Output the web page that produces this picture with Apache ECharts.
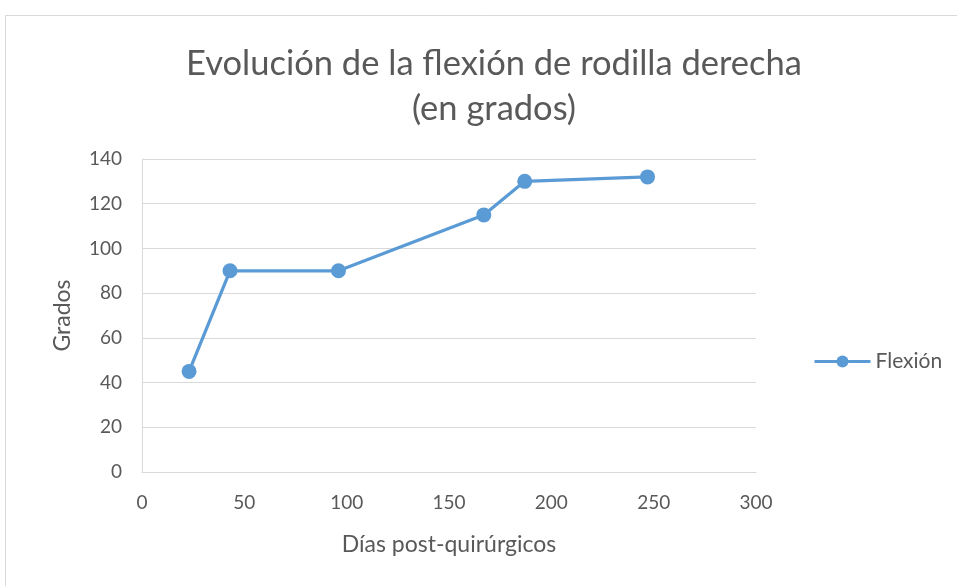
<!DOCTYPE html>
<html>
<head>
<meta charset="utf-8">
<script src="https://cdn.jsdelivr.net/npm/echarts@6/dist/echarts.min.js"></script>
<style>
  html, body { margin: 0; padding: 0; background: #fff; }
  #chart { width: 957px; height: 586px; }
</style>
</head>
<body>
<div id="chart"></div>
<script>
// datos
const dias = [23, 43, 96, 167, 187, 247]
const flexion = [45, 90, 90, 115, 130, 132]
const serieNombre = 'Flexión'

const textColor = '#595959'
const gridColor = '#d9d9d9'
const fontFam = 'Lato, "Open Sans", sans-serif'

const chart = echarts.init(document.getElementById('chart'))
chart.setOption({
  animation: false,
  graphic: [
    {
      type: 'rect',
      shape: { x: 5.5, y: 15.5, width: 960, height: 600 },
      style: { fill: 'none', stroke: '#d9d9d9', lineWidth: 1 },
      silent: true
    }
  ],
  title: {
    text: 'Evolución de la flexión de rodilla derecha\n(en grados)',
    left: 489,
    textAlign: 'center',
    top: 36,
    textStyle: {
      color: textColor,
      fontFamily: fontFam,
      fontWeight: 'normal',
      fontSize: 34.5,
      lineHeight: 45
    }
  },
  legend: {
    left: 808,
    top: 346,
    itemWidth: 56,
    itemHeight: 15,
    itemGap: 4,
    lineStyle: { width: 3 },
    textStyle: { color: textColor, fontFamily: fontFam, fontSize: 21 },
    data: [serieNombre]
  },
  grid: {
    left: 142,
    top: 159,
    right: 201,
    bottom: 114
  },
  xAxis: {
    type: 'value',
    min: 0,
    max: 300,
    interval: 50,
    name: 'Días post-quirúrgicos',
    nameLocation: 'middle',
    nameGap: 61,
    nameTextStyle: { color: textColor, fontFamily: fontFam, fontSize: 23 },
    axisLine: { show: true, lineStyle: { color: gridColor, width: 1 } },
    axisTick: { show: false },
    splitLine: { show: false },
    axisLabel: { color: textColor, fontFamily: fontFam, fontSize: 19, margin: 21 }
  },
  yAxis: {
    type: 'value',
    min: 0,
    max: 140,
    interval: 20,
    name: 'Grados',
    nameLocation: 'middle',
    nameGap: 68,
    nameTextStyle: { color: textColor, fontFamily: fontFam, fontSize: 23 },
    axisLine: { show: true, lineStyle: { color: gridColor, width: 1 } },
    axisTick: { show: false },
    splitLine: { lineStyle: { color: gridColor, width: 1 } },
    axisLabel: { color: textColor, fontFamily: fontFam, fontSize: 19, margin: 20 }
  },
  series: [
    {
      name: serieNombre,
      type: 'line',
      data: dias.map((d, i) => [d, flexion[i]]),
      symbol: 'circle',
      symbolSize: 15,
      lineStyle: { color: '#5b9bd5', width: 3.25 },
      itemStyle: { color: '#5b9bd5' }
    }
  ]
})
</script>
</body>
</html>
